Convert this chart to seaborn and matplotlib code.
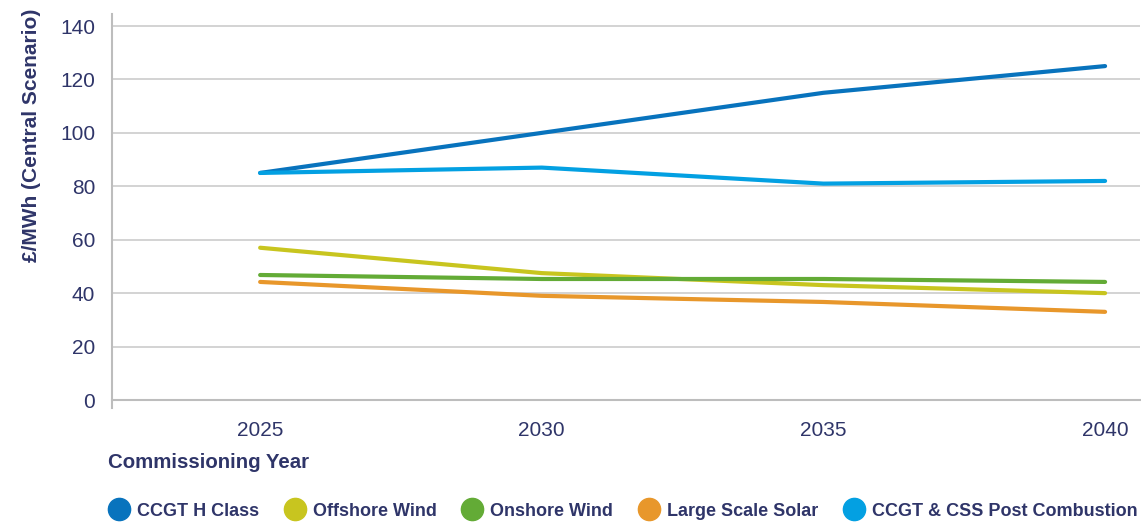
import matplotlib
matplotlib.use("Agg")
import matplotlib.pyplot as plt
from matplotlib.lines import Line2D
import seaborn as sns
import pandas as pd

years = [2025, 2030, 2035, 2040]
series_names = ["CCGT H Class", "Offshore Wind", "Onshore Wind",
                "Large Scale Solar", "CCGT & CSS Post Combustion"]
ccgt_h_class = [85, 100, 115, 125]
offshore_wind = [57, 47.5, 43, 40]
onshore_wind = [46.8, 45.3, 45.3, 44.2]
large_scale_solar = [44.2, 39, 36.7, 33]
ccgt_css_post = [85, 87, 81, 82]
y_ticks = [0, 20, 40, 60, 80, 100, 120, 140]

colors = ["#0873bd", "#c8c51f", "#63ab36", "#e8972b", "#03a0e2"]
text_color = "#2f3569"

all_values = [ccgt_h_class, offshore_wind, onshore_wind, large_scale_solar, ccgt_css_post]
rows = []
for name, vals in zip(series_names, all_values):
    for yr, v in zip(years, vals):
        rows.append({"year": yr, "value": v, "series": name})
df = pd.DataFrame(rows)

sns.set_theme(style="white")
plt.rcParams["font.family"] = ["Liberation Sans", "DejaVu Sans"]

fig = plt.figure(figsize=(11.41, 5.22), dpi=100)
ax = fig.add_axes([112 / 1141, 122 / 522, 1028 / 1141, 386 / 522])

sns.lineplot(data=df, x="year", y="value", hue="series", hue_order=series_names,
             palette=colors, linewidth=3, ax=ax, legend=False,
             solid_capstyle="round", solid_joinstyle="round")

ax.set_xlim(2022.37, 2040.62)
ax.set_ylim(0, 144.5)
ax.set_yticks(y_ticks)
ax.set_xticks(years)
ax.set_xticklabels([str(y) for y in years])
ax.yaxis.grid(True, color="#cccccc", linewidth=1.2)
ax.xaxis.grid(False)
ax.set_axisbelow(True)

for side in ["top", "right"]:
    ax.spines[side].set_visible(False)
ax.spines["left"].set_color("#bdbdbd")
ax.spines["bottom"].set_color("#bdbdbd")
ax.spines["left"].set_linewidth(1.5)
ax.spines["bottom"].set_linewidth(1.5)
ax.spines["left"].set_bounds(-3, 144.5)

ax.tick_params(axis="x", colors="#bdbdbd", length=6, width=1.5, direction="out",
               labelcolor=text_color, labelsize=15, pad=9)
ax.tick_params(axis="y", length=0, labelcolor=text_color, labelsize=15, pad=12)

ax.set_xlabel("")
ax.set_ylabel("£/MWh (Central Scenario)", color=text_color, fontsize=15,
              fontweight="bold")
ax.yaxis.set_label_coords(-0.069, 0.687)

fig.text(108 / 1141, 1 - 462 / 522, "Commissioning Year", color=text_color,
         fontsize=14.7, fontweight="bold", ha="left", va="center")

handles = [Line2D([0], [0], marker="o", linestyle="", markersize=16,
                  markerfacecolor=c, markeredgecolor=c) for c in colors]
fig.legend(handles, series_names, loc="center left",
           bbox_to_anchor=(92 / 1141, 1 - 511 / 522), ncol=5, frameon=False,
           handletextpad=0.4, columnspacing=1.37, handlelength=1.2,
           prop={"family": ["Liberation Sans", "DejaVu Sans"],
                 "weight": "bold", "size": 13},
           labelcolor=text_color)

fig.savefig("out.png", dpi=100)
